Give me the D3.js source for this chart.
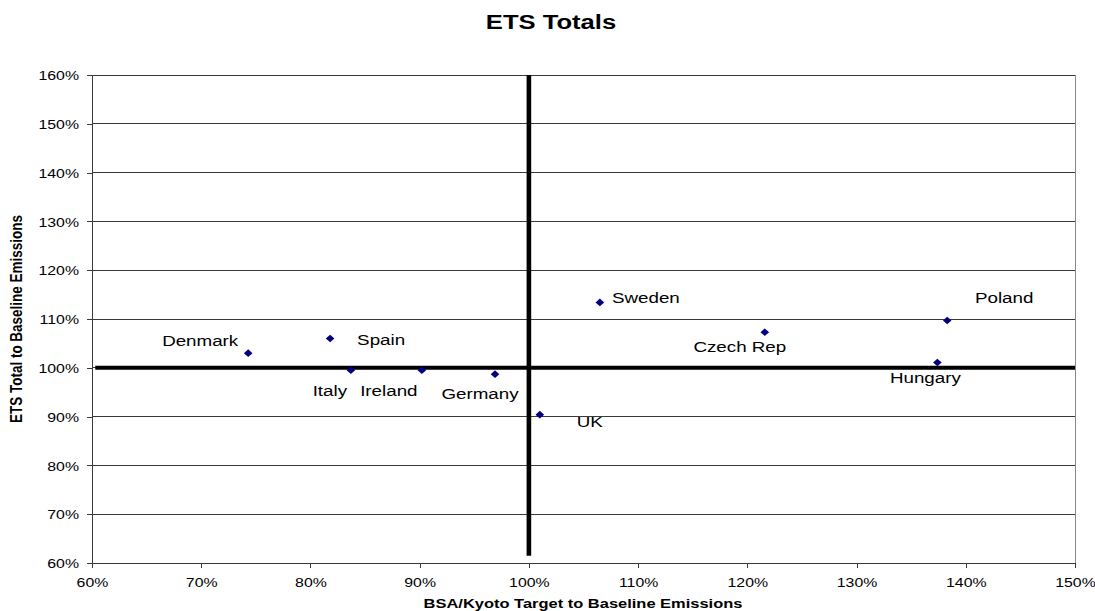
<!DOCTYPE html>
<html>
<meta charset="utf-8">
<style>
body { margin: 0; background: #fff; }
svg text { font-family: "Liberation Sans", Arial, sans-serif; fill: #000; }
.title { font-size: 21px; font-weight: bold; text-anchor: middle; }
.axis-title { font-size: 13.5px; font-weight: bold; text-anchor: middle; }
.tick text { font-size: 13px; }
.label { font-size: 15.4px; text-anchor: middle; }
.grid line { stroke: #3a3a3a; stroke-width: 1; shape-rendering: crispEdges; }
.point { fill: #000080; }
</style>
<body>
<script src="https://cdnjs.cloudflare.com/ajax/libs/d3/7.8.5/d3.min.js"></script>
<script>

// the original picture is stretched sideways, so text gets stretched too
var SX = 1.22;

var countries = ["Denmark", "Spain", "Italy", "Ireland", "Germany", "UK", "Sweden", "Czech Rep", "Poland", "Hungary"];
var targetToBaseline = [74.3, 81.8, 83.7, 90.2, 96.9, 101.0, 106.5, 121.6, 138.3, 137.4];
var etsToBaseline = [103.0, 106.0, 99.5, 99.5, 98.7, 90.4, 113.4, 107.3, 109.7, 101.1];

// where each label sits, relative to its point (px)
var labelDx = [-48, 51, -21, -33, -15, 50, 46, -25, 57, -12];
var labelDy = [-7, 6, 26, 26, 25, 12, 1, 20, -17, 21];

var xTicks = [60, 70, 80, 90, 100, 110, 120, 130, 140, 150];
var yTicks = [60, 70, 80, 90, 100, 110, 120, 130, 140, 150, 160];

// the two thick 100% lines
var vLineX = 100, vLineY = [61.5, 160];
var hLineY = 100, hLineX = [60.3, 150];

var svg = d3.select("body").append("svg")
    .attr("width", 1095)
    .attr("height", 611);

var x = d3.scaleLinear().domain([60, 150]).range([92, 1075]);
var y = d3.scaleLinear().domain([60, 160]).range([563, 75]);

function pct(d) { return d + "%"; }

// gridlines
svg.append("g").attr("class", "grid")
  .selectAll("line")
  .data(yTicks)
  .enter()
  .append("line")
  .attr("x1", x(60))
  .attr("x2", x(150))
  .attr("y1", function(d) { return y(d); })
  .attr("y2", function(d) { return y(d); });

// right border of plot area
svg.append("line")
  .attr("x1", x(150)).attr("x2", x(150))
  .attr("y1", y(160)).attr("y2", y(60))
  .attr("stroke", "#888")
  .attr("shape-rendering", "crispEdges");

var yAxis = svg.append("g")
  .attr("transform", "translate(" + x(60) + ",0)")
  .call(d3.axisLeft(y).tickValues(yTicks).tickFormat(pct).tickSize(5).tickSizeOuter(0));

yAxis.selectAll("text")
  .attr("x", -13 / SX)
  .attr("dy", "0.36em")
  .attr("transform", "scale(" + SX + ",1)");

var xAxis = svg.append("g")
  .attr("transform", "translate(0," + y(60) + ")")
  .call(d3.axisBottom(x).tickValues(xTicks).tickFormat(pct).tickSize(5).tickSizeOuter(0));

xAxis.selectAll("text")
  .attr("y", 24)
  .attr("dy", 0)
  .attr("transform", "scale(" + SX + ",1)");

svg.selectAll(".domain, .tick line")
  .attr("stroke", "#3a3a3a")
  .attr("shape-rendering", "crispEdges");

// thick reference lines
svg.append("line")
  .attr("x1", x(hLineX[0])).attr("x2", x(hLineX[1]))
  .attr("y1", y(hLineY)).attr("y2", y(hLineY))
  .attr("stroke", "#000")
  .attr("stroke-width", 4);

svg.append("line")
  .attr("x1", x(vLineX)).attr("x2", x(vLineX))
  .attr("y1", y(vLineY[0])).attr("y2", y(vLineY[1]))
  .attr("stroke", "#000")
  .attr("stroke-width", 4.6);

// points
var rows = countries.map(function(c, i) {
  return { name: c, x: targetToBaseline[i], y: etsToBaseline[i], dx: labelDx[i], dy: labelDy[i] };
});

svg.selectAll(".point")
  .data(rows)
  .enter()
  .append("path")
  .attr("class", "point")
  .attr("d", "M0,-3.8L4.3,0L0,3.8L-4.3,0Z")
  .attr("transform", function(d) {
    return "translate(" + x(d.x) + "," + y(d.y) + ")";
  });

svg.selectAll(".label")
  .data(rows)
  .enter()
  .append("text")
  .attr("class", "label")
  .attr("transform", function(d) {
    return "translate(" + (x(d.x) + d.dx) + "," + (y(d.y) + d.dy) + ") scale(" + SX + ",1)";
  })
  .text(function(d) { return d.name; });

// titles
svg.append("text")
  .attr("class", "title")
  .attr("transform", "translate(551,29) scale(" + SX + ",1)")
  .text("ETS Totals");

svg.append("text")
  .attr("class", "axis-title")
  .attr("transform", "translate(583,608) scale(" + SX + ",1)")
  .text("BSA/Kyoto Target to Baseline Emissions");

svg.append("text")
  .attr("class", "axis-title")
  .attr("transform", "translate(22,319) scale(" + SX + ",1) rotate(-90)")
  .text("ETS Total to Baseline Emissions");

</script>
</body>
</html>
